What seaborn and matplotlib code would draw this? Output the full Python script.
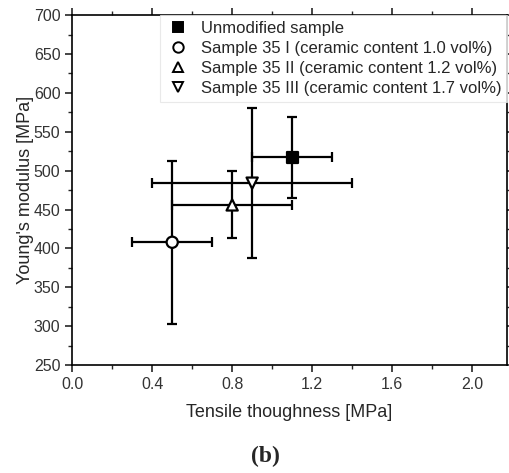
import matplotlib
matplotlib.use("Agg")
import matplotlib.pyplot as plt
import seaborn as sns
import pandas as pd
from matplotlib.ticker import MultipleLocator
from matplotlib.lines import Line2D

labels = ["Unmodified sample",
          "Sample 35 I (ceramic content 1.0 vol%)",
          "Sample 35 II (ceramic content 1.2 vol%)",
          "Sample 35 III (ceramic content 1.7 vol%)"]
toughness = [1.1, 0.5, 0.8, 0.9]
toughness_err = [0.2, 0.2, 0.3, 0.5]
modulus = [517, 408, 456, 484]
modulus_err = [52, 105, 43, 96]

df = pd.DataFrame({"sample": labels, "x": toughness, "y": modulus,
                   "xerr": toughness_err, "yerr": modulus_err})

sns.set_style("ticks")
plt.rcParams["font.family"] = ["Liberation Sans", "DejaVu Sans"]

fig = plt.figure(figsize=(5.09, 4.73), dpi=100)
ax = fig.add_axes([0.142, 0.228, 0.854, 0.74])

markers = {labels[0]: "s", labels[1]: "o", labels[2]: "^", labels[3]: "v"}
faces = ["black", "white", "white", "white"]

for i, r in df.iterrows():
    ax.errorbar(r["x"], r["y"], xerr=r["xerr"], yerr=r["yerr"], fmt="none",
                ecolor="black", elinewidth=1.6, capsize=3.5, capthick=1.6, zorder=2)

sns.scatterplot(data=df, x="x", y="y", style="sample", markers=markers,
                hue="sample", palette=faces, edgecolor="black", linewidth=1.6,
                s=65, ax=ax, zorder=3, legend=False)

handles = [Line2D([], [], ls="none", marker=markers[l], markerfacecolor=f,
                  markeredgecolor="black", markeredgewidth=1.4, markersize=7.5)
           for l, f in zip(labels, faces)]
leg = ax.legend(handles, labels, loc="upper right", fontsize=12,
                frameon=True, fancybox=False, borderaxespad=0.0,
                handletextpad=0.6, labelspacing=0.3, borderpad=0.35,
                handlelength=1.5)
leg.get_frame().set_edgecolor("#e4e4e4")
leg.get_frame().set_linewidth(0.8)

ax.set_xlim(0, 2.175)
ax.set_ylim(250, 700)
ax.xaxis.set_major_locator(MultipleLocator(0.4))
ax.xaxis.set_minor_locator(MultipleLocator(0.2))
ax.yaxis.set_major_locator(MultipleLocator(50))
ax.yaxis.set_minor_locator(MultipleLocator(25))
ax.xaxis.set_major_formatter(matplotlib.ticker.FormatStrFormatter("%.1f"))
ax.tick_params(which="major", length=5, width=1.2, direction="out",
               top=True, right=True, labelsize=11.5, labelcolor="#333333")
ax.tick_params(which="minor", length=3, width=1.0, direction="out",
               top=True, right=True)
for s in ax.spines.values():
    s.set_linewidth(1.2)
    s.set_color("black")

ax.set_xlabel("Tensile thoughness [MPa]", fontsize=13, labelpad=9)
ax.set_ylabel("Young's modulus [MPa]", fontsize=13, labelpad=-0.5)

fig.text(0.522, 0.034, "(b)", ha="center", va="center", fontsize=17,
         fontweight="bold", family=["Liberation Serif", "DejaVu Serif"])

fig.savefig("out.png", dpi=100)
